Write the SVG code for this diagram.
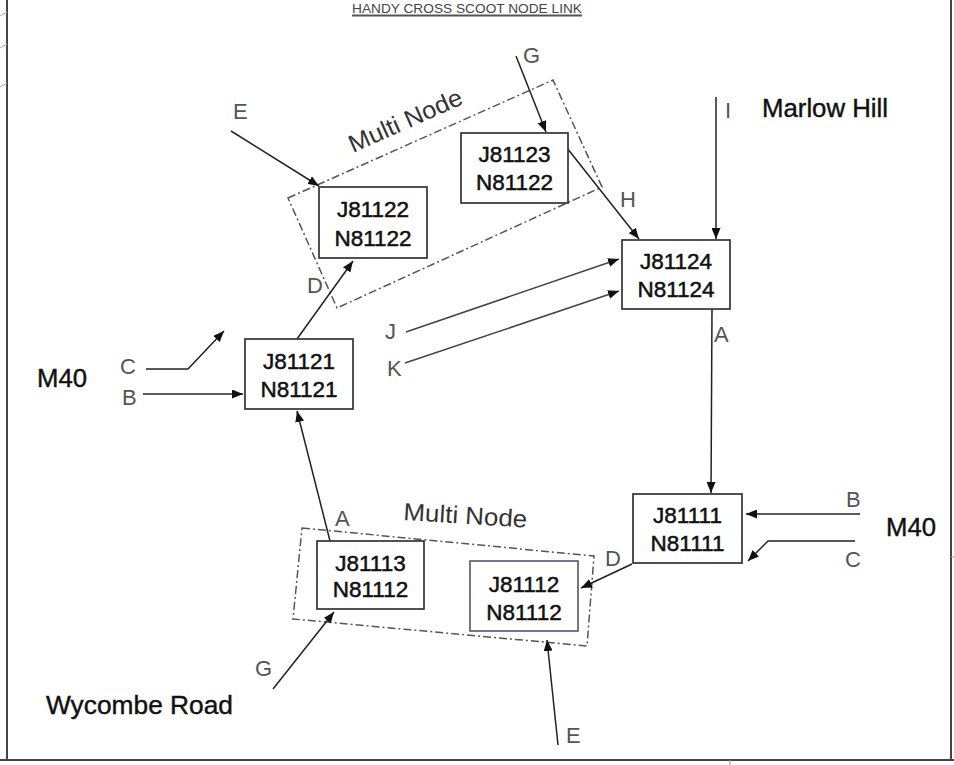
<svg xmlns="http://www.w3.org/2000/svg" width="954" height="765" viewBox="0 0 954 765">
<defs>
<marker id="ah" viewBox="0 0 11 9" refX="11" refY="4.5" markerWidth="11" markerHeight="9" markerUnits="userSpaceOnUse" orient="auto">
<path d="M0,0 L11,4.5 L0,9 Z" fill="#111"/>
</marker>
<style>
.node rect{fill:#fff;stroke:#333;stroke-width:1.7}
.node text{font-family:"Liberation Sans",Arial,sans-serif;font-size:22.5px;fill:#111;stroke:#111;stroke-width:0.5;text-anchor:middle}
.lbl{font-family:"Liberation Sans",Arial,sans-serif;font-size:22px;fill:#555}
.big{font-family:"Liberation Sans",Arial,sans-serif;font-size:25px;fill:#111;stroke:#111;stroke-width:0.4}
.mn{font-family:"Liberation Sans",Arial,sans-serif;font-size:24.5px;fill:#333}
.conn line,.conn polyline{stroke:#222;stroke-width:1.5;fill:none}
.grp{fill:none;stroke:#555;stroke-width:1.5;stroke-dasharray:8 3 2 3}
.frame{stroke:#444;stroke-width:2;fill:none}
</style>
</defs>
<rect width="954" height="765" fill="#fff"/>
<g id="frame">
<line class="frame" x1="7" y1="0" x2="7" y2="760"/>
<line class="frame" x1="951" y1="0" x2="951" y2="760"/>
<line class="frame" x1="0" y1="760" x2="954" y2="760"/>
<line x1="730" y1="760" x2="730" y2="765" stroke="#999" stroke-width="1"/>
<line x1="951" y1="557" x2="954" y2="557" stroke="#999" stroke-width="1"/>
<line x1="0" y1="16" x2="7" y2="12" stroke="#aaa" stroke-width="1"/>
<line x1="0" y1="48" x2="7" y2="44" stroke="#aaa" stroke-width="1"/>
<line x1="0" y1="87" x2="7" y2="83" stroke="#aaa" stroke-width="1"/>
</g>
<g id="title">
<text x="352" y="12.5" font-family="'Liberation Sans',Arial,sans-serif" font-size="13.5" fill="#444" textLength="230" lengthAdjust="spacingAndGlyphs">HANDY CROSS SCOOT NODE LINK</text>
<line x1="352" y1="15.5" x2="582" y2="15.5" stroke="#555" stroke-width="2"/>
</g>
<g id="groups">
<polygon class="grp" points="288,198 553,80 602,187 337,308"/>
<polygon class="grp" points="302,528 594,556 587,646 293,619"/>
<text class="mn" transform="translate(353,153) rotate(-24)" textLength="122" lengthAdjust="spacingAndGlyphs">Multi Node</text>
<text class="mn" transform="translate(403,520) rotate(3.5)" textLength="124" lengthAdjust="spacingAndGlyphs">Multi Node</text>
</g>
<g id="connectors" class="conn">
<line x1="231" y1="131" x2="319" y2="186" marker-end="url(#ah)"/>
<line x1="516" y1="56" x2="546" y2="132" marker-end="url(#ah)"/>
<line x1="567" y1="148" x2="639" y2="239" marker-end="url(#ah)"/>
<line x1="716" y1="97" x2="716" y2="239" marker-end="url(#ah)"/>
<line x1="297" y1="339" x2="353" y2="261" marker-end="url(#ah)"/>
<line x1="406" y1="332" x2="619" y2="259" marker-end="url(#ah)" style="stroke:#444"/>
<line x1="405" y1="363" x2="619" y2="291" marker-end="url(#ah)" style="stroke:#444"/>
<polyline points="146,369 188,369 224,331" marker-end="url(#ah)"/>
<line x1="143" y1="394" x2="243" y2="394" marker-end="url(#ah)"/>
<line x1="712" y1="309" x2="711" y2="493" marker-end="url(#ah)"/>
<line x1="860" y1="514" x2="746" y2="514" marker-end="url(#ah)"/>
<polyline points="855,541 768,541 748,561" marker-end="url(#ah)"/>
<line x1="632" y1="564" x2="581" y2="588" marker-end="url(#ah)"/>
<line x1="330" y1="541" x2="297" y2="411" marker-end="url(#ah)"/>
<line x1="273" y1="689" x2="334" y2="612" marker-end="url(#ah)"/>
<line x1="558" y1="745" x2="547" y2="640" marker-end="url(#ah)"/>
</g>
<g id="n81122a" class="node"><rect x="319" y="187" width="108" height="71"/><text x="373" y="217">J81122</text><text x="373" y="246">N81122</text></g>
<g id="n81123" class="node"><rect x="461" y="133" width="107" height="70"/><text x="514.5" y="162">J81123</text><text x="514.5" y="190">N81122</text></g>
<g id="n81124" class="node"><rect x="622" y="240" width="108" height="69"/><text x="676" y="269">J81124</text><text x="676" y="297">N81124</text></g>
<g id="n81121" class="node"><rect x="245" y="339" width="108" height="70"/><text x="299" y="369">J81121</text><text x="299" y="397">N81121</text></g>
<g id="n81111" class="node"><rect x="633" y="494" width="109" height="69"/><text x="687.5" y="523">J81111</text><text x="687.5" y="551">N81111</text></g>
<g id="n81113" class="node"><rect x="317" y="541" width="107" height="68"/><text x="370.5" y="571">J81113</text><text x="370.5" y="597">N81112</text></g>
<g id="n81112" class="node"><rect x="470" y="561" width="108" height="70" style="stroke:#6a5a78"/><text x="524" y="592">J81112</text><text x="524" y="620">N81112</text></g>
<g id="labels">
<text class="lbl" x="233" y="119">E</text>
<text class="lbl" x="523" y="63">G</text>
<text class="lbl" x="620" y="207">H</text>
<text class="lbl" x="725" y="118">I</text>
<text class="lbl" x="307" y="293">D</text>
<text class="lbl" x="120" y="374">C</text>
<text class="lbl" x="122" y="405">B</text>
<text class="lbl" x="385" y="339">J</text>
<text class="lbl" x="387" y="376">K</text>
<text class="lbl" x="714" y="342">A</text>
<text class="lbl" x="846" y="507">B</text>
<text class="lbl" x="845" y="567">C</text>
<text class="lbl" x="605" y="566">D</text>
<text class="lbl" x="335" y="526">A</text>
<text class="lbl" x="255" y="676">G</text>
<text class="lbl" x="566" y="743">E</text>
<text class="big" x="762" y="117" textLength="126" lengthAdjust="spacingAndGlyphs">Marlow Hill</text>
<text class="big" x="37" y="387" font-size="24" textLength="50" lengthAdjust="spacingAndGlyphs">M40</text>
<text class="big" x="886" y="536" font-size="24" textLength="50" lengthAdjust="spacingAndGlyphs">M40</text>
<text class="big" x="46" y="714" textLength="187" lengthAdjust="spacingAndGlyphs">Wycombe Road</text>
</g>
</svg>
